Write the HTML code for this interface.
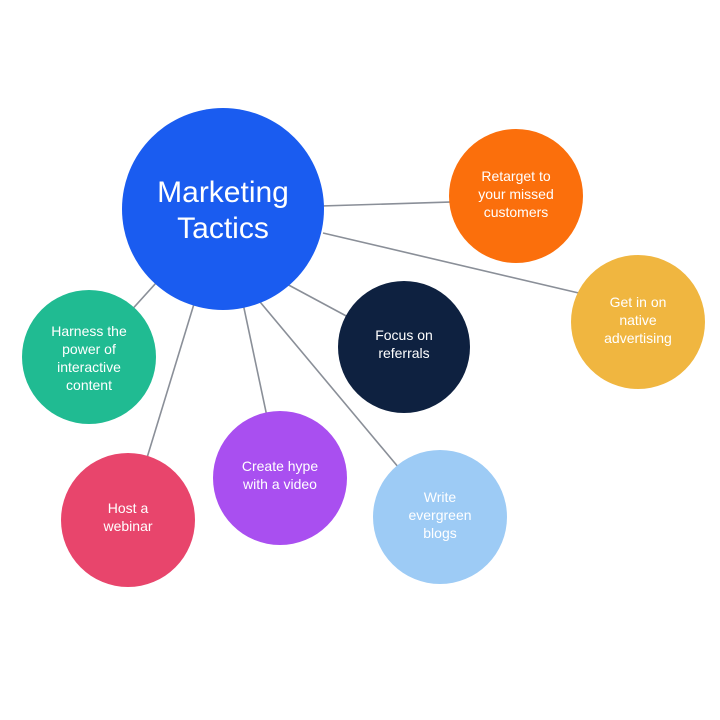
<!DOCTYPE html>
<html><head><style>
body{margin:0;background:#fff;}
svg{display:block}
text{font-family:"Liberation Sans",sans-serif;fill:#fff;text-anchor:middle}
</style></head><body>
<svg width="720" height="720" viewBox="0 0 720 720">
<g stroke="#8a8f98" stroke-width="1.6">
<line x1="223" y1="209" x2="516" y2="200"/>
<line x1="323" y1="233" x2="600" y2="298"/>
<line x1="270" y1="275" x2="404" y2="347"/>
<line x1="223" y1="209" x2="89" y2="357"/>
<line x1="223" y1="209" x2="128" y2="520"/>
<line x1="223" y1="209" x2="280" y2="478"/>
<line x1="250" y1="290" x2="440" y2="517"/>
</g>
<circle cx="223" cy="209" r="101" fill="#1a5cf0"/>
<circle cx="516" cy="196" r="67" fill="#fb6f0c"/>
<circle cx="638" cy="322" r="67" fill="#f0b640"/>
<circle cx="404" cy="347" r="66" fill="#0e2140"/>
<circle cx="89" cy="357" r="67" fill="#20bb92"/>
<circle cx="128" cy="520" r="67" fill="#e8456c"/>
<circle cx="280" cy="478" r="67" fill="#a94ff0"/>
<circle cx="440" cy="517" r="67" fill="#9dcbf5"/>
<text x="223" y="202" font-size="30">Marketing</text>
<text x="223" y="238" font-size="30">Tactics</text>
<g font-size="14">
<text x="516" y="181">Retarget to</text><text x="516" y="199">your missed</text><text x="516" y="217">customers</text>
<text x="638" y="307">Get in on</text><text x="638" y="325">native</text><text x="638" y="343">advertising</text>
<text x="404" y="340">Focus on</text><text x="404" y="358">referrals</text>
<text x="89" y="336">Harness the</text><text x="89" y="354">power of</text><text x="89" y="372">interactive</text><text x="89" y="390">content</text>
<text x="128" y="513">Host a</text><text x="128" y="531">webinar</text>
<text x="280" y="471">Create hype</text><text x="280" y="489">with a video</text>
<text x="440" y="502">Write</text><text x="440" y="520">evergreen</text><text x="440" y="538">blogs</text>
</g>
</svg>
</body></html>
